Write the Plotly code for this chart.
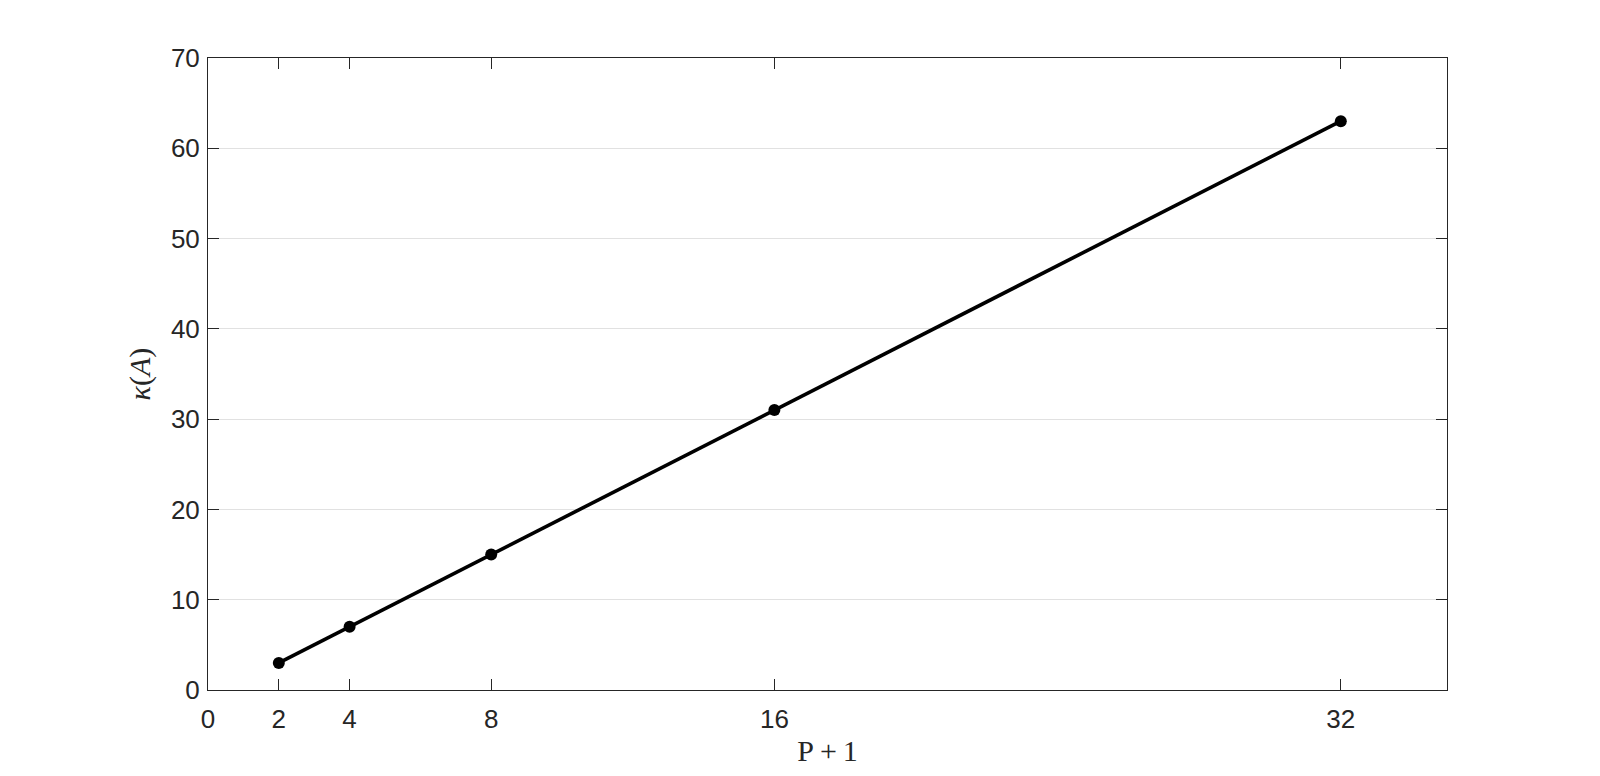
import plotly.graph_objects as go

# P+1 values and condition numbers
p_plus_1 = [2, 4, 8, 16, 32]
kappa = [3, 7, 15, 31, 63]

x_ticks = [0, 2, 4, 8, 16, 32]
y_ticks = [0, 10, 20, 30, 40, 50, 60, 70]

axis_color = "#262626"
tick_font = dict(family="Liberation Sans, Arial", size=26, color=axis_color)
title_font = dict(family="Liberation Serif, Times New Roman", size=30, color=axis_color)

fig = go.Figure()

fig.add_trace(go.Scatter(
    x=p_plus_1,
    y=kappa,
    mode="lines+markers",
    line=dict(color="black", width=3.6),
    marker=dict(color="black", size=12),
    showlegend=False,
))

fig.update_xaxes(
    range=[0, 35],
    tickvals=x_ticks,
    ticktext=[str(t) for t in x_ticks],
    ticks="inside",
    ticklen=11,
    tickwidth=1,
    tickcolor=axis_color,
    ticklabelstandoff=6,
    showline=True,
    linecolor=axis_color,
    linewidth=1,
    mirror="ticks",
    showgrid=False,
    zeroline=False,
    tickfont=tick_font,
    title=dict(text="P\u2009+\u20091", font=title_font, standoff=6),
)

fig.update_yaxes(
    range=[0, 70],
    tickvals=y_ticks,
    ticks="inside",
    ticklen=11,
    tickwidth=1,
    tickcolor=axis_color,
    ticklabelstandoff=2,
    showline=True,
    linecolor=axis_color,
    linewidth=1,
    mirror="ticks",
    showgrid=True,
    gridcolor="#e1e1e1",
    gridwidth=1,
    zeroline=False,
    tickfont=tick_font,
    title=dict(text="<i>κ</i>(<i>A</i>)", font=title_font, standoff=11),
)

# page body adds an 8px offset, margins compensate for it
fig.update_layout(
    width=1600,
    height=776,
    plot_bgcolor="white",
    paper_bgcolor="white",
    margin=dict(l=200, r=161, t=50, b=94),
)

fig.write_html("out.html")
